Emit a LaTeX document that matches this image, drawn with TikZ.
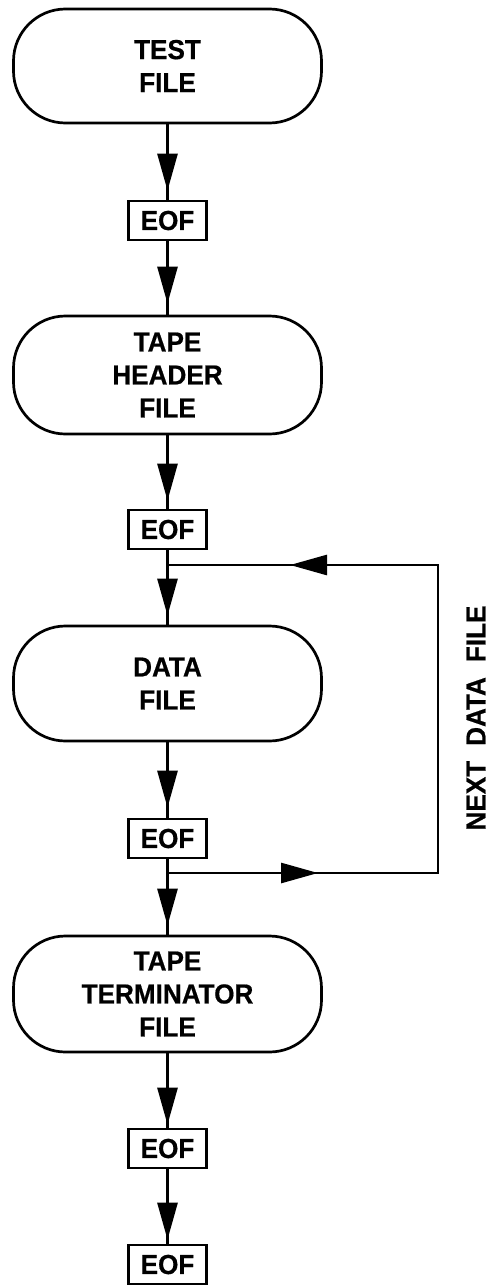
\documentclass[tikz,border=0pt]{standalone}
\usepackage{fontspec}
\setmainfont{Liberation Sans}[FakeStretch=0.95,BoldFeatures={FakeBold=0.6}]
\usetikzlibrary{arrows.meta,decorations.markings}
\begin{document}
\begin{tikzpicture}[x=1pt,y=-1pt,
  every node/.style={font=\fontsize{27.5}{33}\selectfont\bfseries},
  filebox/.style={draw,line width=2.7pt,rounded corners=52pt,minimum width=308pt,inner sep=0pt,align=center},
  eofbox/.style={draw,line width=2.7pt,minimum width=78pt,minimum height=39pt,inner sep=0pt},
  conn/.style={line width=2.7pt},
  tipat/.style={postaction={decorate},decoration={markings,mark=at position #1 with {\arrow{Triangle[length=37pt,width=20pt]}}}}
]
\useasboundingbox (0,0) rectangle (492,1287);
\node[filebox,minimum height=114pt] (test) at (167.5,66) {TEST\\FILE};
\node[eofbox] (eof1) at (167.5,220.5) {EOF};
\node[filebox,minimum height=118pt] (header) at (167.5,375) {TAPE\\HEADER\\FILE};
\node[eofbox] (eof2) at (167.5,529.5) {EOF};
\node[filebox,minimum height=115pt] (data) at (167.5,683.5) {DATA\\FILE};
\node[eofbox] (eof3) at (167.5,838.5) {EOF};
\node[filebox,minimum height=116pt] (term) at (167.5,994) {TAPE\\TERMINATOR\\FILE};
\node[eofbox] (eof4) at (167.5,1148.5) {EOF};
\node[eofbox] (eof5) at (167.5,1264.5) {EOF};
\coordinate (j1) at (167.5,565);
\coordinate (j2) at (167.5,873);
\coordinate (r1) at (438,565);
\coordinate (r2) at (438,873);
\node[rotate=90] (lbl) at (476,718) {NEXT\hspace{15pt}DATA\hspace{15pt}FILE};
\draw[conn,tipat=-9pt] (test) -- (eof1);
\draw[conn,tipat=-11pt] (eof1) -- (header);
\draw[conn,tipat=-8pt] (header) -- (eof2);
\draw[conn,tipat=-9pt] (eof2) -- (data);
\draw[conn,tipat=-10pt] (data) -- (eof3);
\draw[conn,tipat=-9pt] (eof3) -- (term);
\draw[conn,tipat=-3pt] (term) -- (eof4);
\draw[conn,tipat=-4pt] (eof4) -- (eof5);
\draw[conn,line join=miter,
  postaction={decorate},decoration={markings,
    mark=at position 150.5pt with {\arrow{Triangle[length=37pt,width=20pt]}},
    mark=at position 726.5pt with {\arrow{Triangle[length=37pt,width=20pt]}}}]
  (j2) -- (r2) -- (r1) -- (j1);
\end{tikzpicture}
\end{document}
